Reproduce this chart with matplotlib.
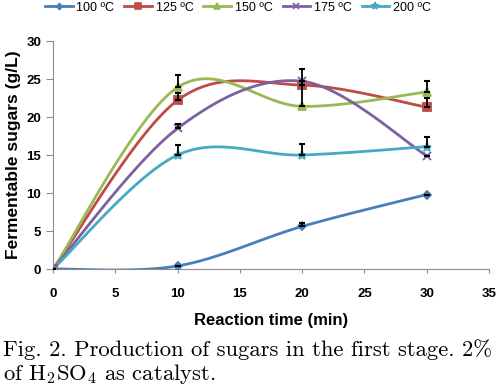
import numpy as np
import matplotlib.pyplot as plt

plt.rcParams['font.family'] = ['Liberation Sans', 'DejaVu Sans']
plt.rcParams['mathtext.fontset'] = 'cm'

# data
time = [0, 10, 20, 30]
labels = ['100 ºC', '125 ºC', '150 ºC', '175 ºC', '200 ºC']
s100 = [0, 0.4, 5.6, 9.8]
s125 = [0, 22.2, 24.2, 21.3]
s150 = [0, 23.9, 21.4, 23.3]
s175 = [0, 18.5, 24.7, 14.9]
s200 = [0, 15.0, 15.0, 16.1]
e100 = [0, 0, 0.5, 0]
e125 = [0, 0.9, 0, 1.2]
e150 = [0, 1.6, 4.9, 1.4]
e175 = [0, 0.6, 0, 0]
e200 = [0, 1.3, 1.4, 1.3]

series = [s100, s125, s150, s175, s200]
errors = [e100, e125, e150, e175, e200]
colors = ['#4A7EBB', '#BE4B48', '#98B954', '#7D60A0', '#46AAC5']
markers = ['D', 's', '^', 'x', '*']
msizes = [4, 5.5, 5.5, 5.5, 6.5]


def excel_smooth(x, y, n=40):
    # bezier smoothing similar to spreadsheet "smoothed line"
    x = np.asarray(x, float)
    y = np.asarray(y, float)
    px, py = [], []
    m = len(x)
    for i in range(m - 1):
        x0, y0 = (x[i - 1], y[i - 1]) if i > 0 else (x[i], y[i])
        x3, y3 = (x[i + 2], y[i + 2]) if i + 2 < m else (x[i + 1], y[i + 1])
        c1x = x[i] + (x[i + 1] - x0) / 6
        c1y = y[i] + (y[i + 1] - y0) / 6
        c2x = x[i + 1] - (x3 - x[i]) / 6
        c2y = y[i + 1] - (y3 - y[i]) / 6
        t = np.linspace(0, 1, n)
        bx = (1 - t)**3 * x[i] + 3 * (1 - t)**2 * t * c1x + 3 * (1 - t) * t**2 * c2x + t**3 * x[i + 1]
        by = (1 - t)**3 * y[i] + 3 * (1 - t)**2 * t * c1y + 3 * (1 - t) * t**2 * c2y + t**3 * y[i + 1]
        px.extend(bx)
        py.extend(by)
    return px, py


fig = plt.figure(figsize=(5.01, 3.9), dpi=100)
ax = fig.add_axes([53 / 501, 1 - 269 / 390, 436 / 501, 228 / 390])

for s, e, c, mk, ms, lab in zip(series, errors, colors, markers, msizes, labels):
    sx, sy = excel_smooth(time, s)
    ax.plot(sx, sy, color=c, lw=2, zorder=2)
    ax.plot(time, s, color=c, lw=2, marker=mk, ms=ms, mew=1.3, linestyle='none', zorder=3)
    ax.plot([], [], color=c, lw=2, marker=mk, ms=ms - 1, mew=1.2, label=lab)
    ax.errorbar(time, s, yerr=[np.zeros(len(e)), e], fmt='none', ecolor='black',
                elinewidth=1.3, capsize=2.5, capthick=1.5, zorder=4)

ax.set_xlim(0, 35)
ax.set_ylim(0, 30)
ax.set_xticks(range(0, 36, 5))
ax.set_yticks(range(0, 31, 5))
for sp in ['top', 'right']:
    ax.spines[sp].set_visible(False)
for sp in ['left', 'bottom']:
    ax.spines[sp].set_color('#8c8c8c')
ax.tick_params(axis='x', colors='#8c8c8c', labelcolor='black', length=3, width=0.8, pad=11)
ax.tick_params(axis='y', colors='#8c8c8c', labelcolor='black', length=5, width=0.8, pad=3.5)
for t in ax.get_xticklabels() + ax.get_yticklabels():
    t.set_fontsize(9.5)
    t.set_fontweight('bold')

ax.set_xlabel('Reaction time (min)', fontsize=12, fontweight='bold', labelpad=9)
ax.set_ylabel('Fermentable sugars (g/L)', fontsize=12.5, fontweight='bold', labelpad=4)

fig.legend(loc='upper center', bbox_to_anchor=(0.475, 1.025), ncol=5, frameon=False,
           fontsize=9, handlelength=2.2, columnspacing=0.8, handletextpad=0.3)

fig.text(3 / 501, 1 - 350 / 390, 'Fig. 2. Production of sugars in the first stage. 2%',
         family='cmr10', fontsize=16.3, va='center')
fig.text(3 / 501, 1 - 374 / 390, r'of H$_2$SO$_4$ as catalyst.',
         family='cmr10', fontsize=16.3, va='center')

fig.savefig('out.png', dpi=100)
